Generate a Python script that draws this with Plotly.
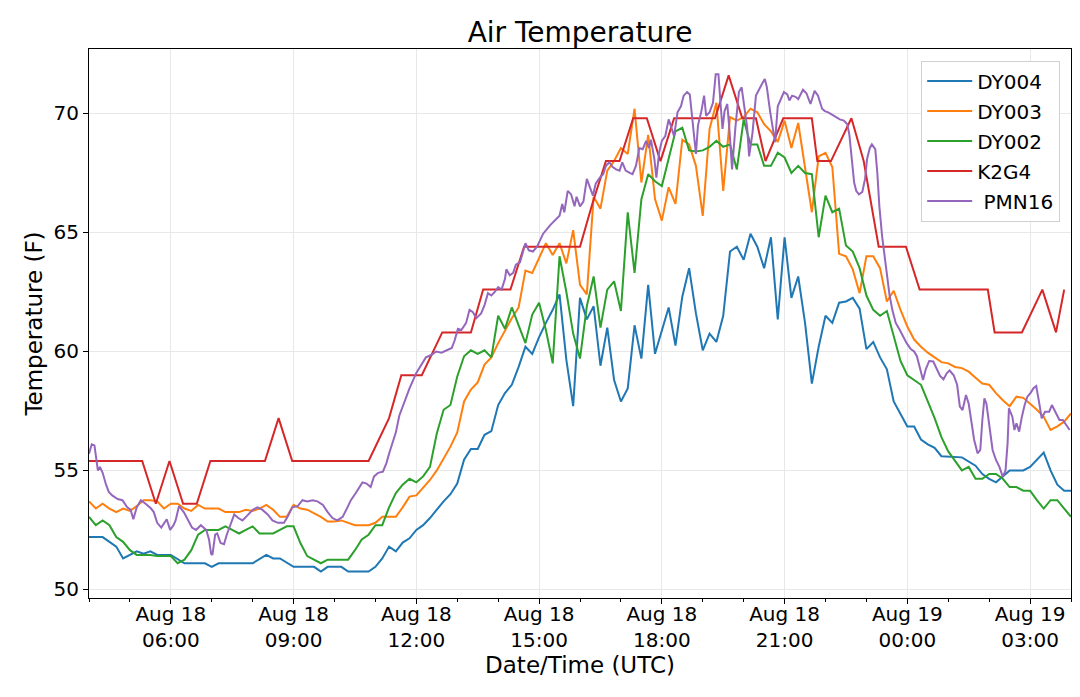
import pandas as pd
import plotly.graph_objects as go

# readings per station: (UTC time, temperature F), 18 -> 19 Aug
dy004 = [("04:00", 52.2), ("04:20", 52.2), ("04:30", 52.0), ("04:40", 51.8), ("04:50", 51.3), ("05:10", 51.6),
         ("05:20", 51.5), ("05:30", 51.6), ("05:40", 51.45), ("06:00", 51.45), ("06:20", 51.1), ("06:50", 51.1),
         ("07:00", 50.95), ("07:10", 51.1), ("08:00", 51.1), ("08:20", 51.45), ("08:30", 51.3), ("08:40", 51.3),
         ("09:00", 50.95), ("09:30", 50.95), ("09:40", 50.75), ("09:50", 50.95), ("10:10", 50.95), ("10:20", 50.75),
         ("10:50", 50.75), ("11:00", 50.95), ("11:10", 51.3), ("11:20", 51.8), ("11:30", 51.6), ("11:40", 51.97),
         ("11:50", 52.15), ("12:00", 52.5), ("12:10", 52.7), ("12:20", 53.0), ("12:30", 53.35), ("12:40", 53.7),
         ("12:50", 54.0), ("13:00", 54.45), ("13:10", 55.45), ("13:20", 55.9), ("13:30", 55.9), ("13:40", 56.5),
         ("13:50", 56.65), ("14:00", 57.75), ("14:10", 58.25), ("14:20", 58.6), ("14:30", 59.35), ("14:40", 60.2),
         ("14:50", 59.9), ("15:00", 60.6), ("15:10", 61.2), ("15:20", 61.75), ("15:30", 62.4), ("15:40", 59.65),
         ("15:50", 57.7), ("16:00", 62.25), ("16:10", 61.35), ("16:20", 61.9), ("16:30", 59.4), ("16:40", 61.0),
         ("16:50", 58.8), ("17:00", 57.9), ("17:10", 58.45), ("17:20", 61.1), ("17:30", 59.7), ("17:40", 62.8),
         ("17:50", 59.9), ("18:00", 60.9), ("18:10", 61.85), ("18:20", 60.25), ("18:30", 62.3), ("18:40", 63.5),
         ("18:50", 61.6), ("19:00", 60.05), ("19:10", 60.75), ("19:20", 60.4), ("19:30", 61.5), ("19:40", 64.2),
         ("19:50", 64.4), ("20:00", 63.85), ("20:10", 64.95), ("20:20", 64.4), ("20:30", 63.5), ("20:40", 64.8),
         ("20:50", 61.35), ("21:00", 64.8), ("21:10", 62.25), ("21:20", 63.15), ("21:30", 61.2), ("21:40", 58.65),
         ("21:50", 60.2), ("22:00", 61.5), ("22:10", 61.2), ("22:20", 62.05), ("22:30", 62.1), ("22:40", 62.25),
         ("22:50", 61.8), ("23:00", 60.1), ("23:10", 60.4), ("23:20", 59.75), ("23:30", 59.25), ("23:40", 57.9),
         ("23:50", 57.35), ("00:00", 56.85), ("00:10", 56.85), ("00:20", 56.3), ("00:30", 56.1), ("00:40", 55.95),
         ("00:50", 55.6), ("01:20", 55.55), ("01:40", 55.2), ("01:50", 54.85), ("02:00", 54.65), ("02:10", 54.5),
         ("02:20", 54.75), ("02:30", 55.0), ("02:50", 55.0), ("03:00", 55.15), ("03:20", 55.75), ("03:30", 55.0),
         ("03:40", 54.4), ("03:50", 54.15), ("04:00", 54.15)]

dy003 = [("04:00", 53.7), ("04:10", 53.4), ("04:20", 53.6), ("04:30", 53.4), ("04:40", 53.25), ("04:50", 53.4),
         ("05:00", 53.3), ("05:10", 53.5), ("05:20", 53.75), ("05:30", 53.75), ("05:40", 53.7), ("05:50", 53.4),
         ("06:00", 53.6), ("06:10", 53.6), ("06:20", 53.4), ("06:30", 53.3), ("06:40", 53.55), ("06:50", 53.4),
         ("07:10", 53.4), ("07:20", 53.25), ("07:40", 53.25), ("07:50", 53.35), ("08:00", 53.3), ("08:10", 53.4),
         ("08:20", 53.55), ("08:30", 53.35), ("08:40", 53.05), ("08:50", 53.05), ("09:00", 53.55), ("09:10", 53.4),
         ("09:20", 53.35), ("09:30", 53.2), ("09:40", 53.05), ("09:50", 52.85), ("10:00", 52.85), ("10:10", 52.9),
         ("10:20", 52.8), ("10:30", 52.7), ("10:50", 52.7), ("11:00", 52.8), ("11:10", 53.05), ("11:30", 53.05),
         ("11:40", 53.45), ("11:50", 53.9), ("12:00", 53.95), ("12:10", 54.3), ("12:20", 54.6), ("12:30", 55.0),
         ("12:40", 55.5), ("12:50", 56.0), ("13:00", 56.6), ("13:10", 57.9), ("13:20", 58.4), ("13:30", 58.7),
         ("13:40", 59.45), ("13:50", 59.75), ("14:00", 60.35), ("14:10", 60.9), ("14:20", 61.4), ("14:30", 61.85),
         ("14:40", 63.4), ("14:50", 63.3), ("15:00", 63.95), ("15:10", 64.55), ("15:20", 64.05), ("15:30", 64.55),
         ("15:40", 63.7), ("15:50", 65.1), ("16:00", 62.8), ("16:10", 62.4), ("16:20", 66.5), ("16:30", 66.0),
         ("16:40", 67.6), ("16:50", 68.0), ("17:00", 68.55), ("17:10", 68.3), ("17:20", 70.2), ("17:30", 67.1),
         ("17:40", 69.1), ("17:50", 66.4), ("18:00", 65.5), ("18:10", 66.9), ("18:20", 66.2), ("18:30", 68.9),
         ("18:40", 68.7), ("18:50", 67.8), ("19:00", 65.7), ("19:10", 69.35), ("19:20", 70.45), ("19:30", 66.75),
         ("19:40", 69.85), ("19:50", 69.7), ("20:00", 69.85), ("20:10", 70.2), ("20:20", 70.05), ("20:30", 69.55),
         ("20:40", 69.25), ("20:50", 68.8), ("21:00", 69.7), ("21:10", 68.55), ("21:20", 69.6), ("21:30", 67.7),
         ("21:40", 65.85), ("21:50", 68.2), ("22:00", 68.35), ("22:10", 67.75), ("22:20", 64.1), ("22:30", 64.0),
         ("22:40", 63.45), ("22:50", 62.45), ("23:00", 64.0), ("23:10", 64.0), ("23:20", 63.5), ("23:30", 62.1),
         ("23:40", 62.55), ("23:50", 61.75), ("00:00", 61.05), ("00:10", 60.5), ("00:20", 60.2), ("00:30", 59.95),
         ("00:40", 59.75), ("00:50", 59.55), ("01:00", 59.5), ("01:10", 59.35), ("01:20", 59.3), ("01:30", 59.15),
         ("01:40", 58.9), ("01:50", 58.65), ("02:00", 58.6), ("02:10", 58.25), ("02:20", 57.95), ("02:30", 57.7),
         ("02:40", 58.1), ("02:50", 58.05), ("03:00", 57.8), ("03:10", 57.55), ("03:20", 57.25), ("03:30", 56.7),
         ("03:40", 56.85), ("03:50", 57.05), ("04:00", 57.4)]

dy002 = [("04:00", 53.05), ("04:10", 52.7), ("04:20", 52.9), ("04:30", 52.7), ("04:40", 52.2), ("04:50", 52.0),
         ("05:00", 51.65), ("05:10", 51.45), ("05:30", 51.45), ("05:40", 51.4), ("06:00", 51.4), ("06:10", 51.1),
         ("06:20", 51.25), ("06:30", 51.65), ("06:40", 52.3), ("06:50", 52.5), ("07:10", 52.5), ("07:20", 52.65),
         ("07:30", 52.5), ("07:40", 52.35), ("07:50", 52.5), ("08:00", 52.65), ("08:10", 52.35), ("08:30", 52.35),
         ("08:40", 52.5), ("08:50", 52.65), ("09:00", 52.65), ("09:10", 51.95), ("09:20", 51.4), ("09:30", 51.25),
         ("09:40", 51.1), ("09:50", 51.25), ("10:20", 51.25), ("10:30", 51.65), ("10:40", 52.1), ("10:50", 52.3),
         ("11:00", 52.7), ("11:10", 52.7), ("11:20", 53.45), ("11:30", 54.05), ("11:40", 54.4), ("11:50", 54.65),
         ("12:00", 54.5), ("12:10", 54.75), ("12:20", 55.15), ("12:30", 56.55), ("12:40", 57.55), ("12:50", 57.75),
         ("13:00", 58.95), ("13:10", 59.8), ("13:20", 60.05), ("13:30", 59.9), ("13:40", 60.05), ("13:50", 59.75),
         ("14:00", 61.5), ("14:10", 60.95), ("14:20", 61.85), ("14:30", 61.1), ("14:40", 60.35), ("14:50", 61.55),
         ("15:00", 62.05), ("15:10", 60.9), ("15:20", 59.5), ("15:30", 64.0), ("15:40", 62.5), ("15:50", 60.75),
         ("16:00", 59.7), ("16:10", 61.9), ("16:20", 63.15), ("16:30", 61.0), ("16:40", 62.6), ("16:50", 62.95),
         ("17:00", 61.7), ("17:10", 65.85), ("17:20", 63.3), ("17:30", 66.4), ("17:40", 67.45), ("17:50", 67.15),
         ("18:00", 66.95), ("18:10", 68.1), ("18:20", 69.25), ("18:30", 69.4), ("18:40", 68.45), ("18:50", 68.4),
         ("19:00", 68.45), ("19:10", 68.6), ("19:20", 68.85), ("19:30", 68.6), ("19:40", 68.7), ("19:50", 67.65),
         ("20:00", 69.75), ("20:10", 68.7), ("20:20", 68.7), ("20:30", 67.8), ("20:40", 67.8), ("20:50", 68.35),
         ("21:00", 68.15), ("21:10", 67.5), ("21:20", 67.8), ("21:30", 67.5), ("21:40", 67.45), ("21:50", 64.8),
         ("22:00", 66.55), ("22:10", 65.85), ("22:20", 66.0), ("22:30", 64.45), ("22:40", 64.2), ("22:50", 63.5),
         ("23:00", 62.35), ("23:10", 61.75), ("23:20", 61.5), ("23:30", 61.7), ("23:40", 60.7), ("23:50", 59.6),
         ("00:00", 59.0), ("00:10", 58.8), ("00:20", 58.6), ("00:30", 57.9), ("00:40", 57.2), ("00:50", 56.4),
         ("01:00", 55.8), ("01:10", 55.4), ("01:20", 55.0), ("01:30", 55.15), ("01:40", 54.65), ("01:50", 54.65),
         ("02:00", 54.85), ("02:10", 54.85), ("02:20", 54.65), ("02:30", 54.3), ("02:40", 54.3), ("02:50", 54.15),
         ("03:00", 54.15), ("03:10", 53.75), ("03:20", 53.4), ("03:30", 53.75), ("03:40", 53.75), ("03:50", 53.4),
         ("04:00", 53.05)]

k2g4 = [("04:00", 55.4), ("05:18", 55.4), ("05:38", 53.6), ("05:58", 55.4), ("06:18", 53.6), ("06:38", 53.6),
        ("06:58", 55.4), ("08:18", 55.4), ("08:38", 57.2), ("08:58", 55.4), ("10:50", 55.4), ("11:20", 57.2),
        ("11:38", 59.0), ("12:08", 59.0), ("12:38", 60.8), ("13:20", 60.8), ("13:38", 62.6), ("14:18", 62.6),
        ("14:38", 64.4), ("16:00", 64.4), ("16:18", 66.2), ("16:38", 68.0), ("16:58", 68.0), ("17:18", 69.8),
        ("17:38", 69.8), ("17:58", 68.0), ("18:18", 69.8), ("19:18", 69.8), ("19:38", 71.6), ("19:58", 69.8),
        ("20:18", 69.8), ("20:32", 68.0), ("20:58", 69.8), ("21:40", 69.8), ("21:48", 68.0), ("22:08", 68.0),
        ("22:38", 69.8), ("22:56", 68.0), ("23:18", 64.4), ("23:58", 64.4), ("00:18", 62.6), ("01:58", 62.6),
        ("02:08", 60.8), ("02:48", 60.8), ("03:18", 62.6), ("03:38", 60.8), ("03:50", 62.6)]

pmn16 = [("04:00", 55.7), ("04:04", 56.1), ("04:08", 56.05), ("04:13", 55.0), ("04:16", 55.15), ("04:20", 54.9),
         ("04:25", 54.4), ("04:29", 54.1), ("04:34", 53.95), ("04:42", 53.8), ("04:49", 53.75), ("04:56", 53.45),
         ("05:01", 53.35), ("05:05", 52.95), ("05:10", 53.45), ("05:16", 53.75), ("05:23", 53.6), ("05:31", 53.4),
         ("05:35", 53.25), ("05:40", 52.8), ("05:46", 52.6), ("05:50", 52.75), ("05:54", 52.95), ("05:59", 52.5),
         ("06:04", 52.7), ("06:07", 52.9), ("06:12", 53.5), ("06:19", 53.25), ("06:25", 52.9), ("06:31", 52.6),
         ("06:37", 52.5), ("06:44", 52.7), ("06:52", 52.5), ("06:56", 52.1), ("06:59", 51.5), ("07:01", 51.45),
         ("07:05", 52.3), ("07:08", 52.35), ("07:13", 51.95), ("07:18", 51.9), ("07:22", 52.3), ("07:28", 52.8),
         ("07:33", 53.15), ("07:39", 53.0), ("07:45", 52.9), ("07:52", 53.1), ("08:00", 53.35), ("08:07", 53.45),
         ("08:14", 53.35), ("08:22", 53.15), ("08:29", 52.9), ("08:37", 52.8), ("08:46", 52.8), ("08:52", 53.1),
         ("08:58", 53.45), ("09:06", 53.5), ("09:13", 53.75), ("09:20", 53.7), ("09:28", 53.75), ("09:35", 53.7),
         ("09:43", 53.55), ("09:50", 53.25), ("09:57", 53.0), ("10:04", 52.9), ("10:12", 53.05), ("10:19", 53.45),
         ("10:24", 53.75), ("10:30", 54.0), ("10:36", 54.3), ("10:41", 54.5), ("10:47", 54.45), ("10:53", 54.3),
         ("10:58", 54.75), ("11:04", 54.9), ("11:11", 54.95), ("11:16", 55.3), ("11:20", 55.7), ("11:25", 56.2),
         ("11:30", 56.6), ("11:35", 57.3), ("11:43", 57.9), ("11:50", 58.45), ("12:00", 59.1), ("12:07", 59.45),
         ("12:14", 59.75), ("12:22", 59.85), ("12:29", 60.0), ("12:37", 59.95), ("12:44", 60.05), ("12:52", 60.15),
         ("12:56", 60.45), ("13:01", 60.95), ("13:06", 60.9), ("13:13", 61.2), ("13:18", 61.75), ("13:23", 61.65),
         ("13:28", 61.4), ("13:35", 61.6), ("13:40", 61.95), ("13:45", 62.45), ("13:50", 62.35), ("13:55", 62.5),
         ("14:00", 62.7), ("14:05", 62.6), ("14:10", 63.05), ("14:12", 63.45), ("14:17", 63.2), ("14:22", 63.3),
         ("14:26", 63.65), ("14:32", 63.75), ("14:37", 64.25), ("14:40", 64.55), ("14:45", 64.25), ("14:51", 64.2),
         ("14:57", 64.4), ("15:06", 64.95), ("15:16", 65.3), ("15:30", 65.7), ("15:34", 66.2), ("15:37", 65.85),
         ("15:42", 66.75), ("15:47", 66.6), ("15:52", 66.1), ("15:55", 66.5), ("16:00", 66.1), ("16:05", 66.3),
         ("16:10", 67.25), ("16:14", 66.9), ("16:19", 66.55), ("16:23", 67.05), ("16:29", 67.3), ("16:34", 67.45),
         ("16:38", 67.8), ("16:43", 67.95), ("16:48", 67.75), ("16:53", 67.65), ("16:58", 67.6), ("17:02", 67.95),
         ("17:07", 67.6), ("17:13", 67.5), ("17:17", 67.45), ("17:22", 67.8), ("17:27", 68.55), ("17:32", 68.5),
         ("17:37", 68.85), ("17:41", 68.55), ("17:44", 68.9), ("17:49", 68.1), ("17:52", 67.3), ("17:56", 68.35),
         ("18:00", 68.85), ("18:05", 69.05), ("18:10", 69.75), ("18:13", 69.5), ("18:18", 69.05), ("18:23", 70.05),
         ("18:28", 70.3), ("18:32", 70.75), ("18:37", 70.9), ("18:41", 70.8), ("18:45", 69.75), ("18:50", 68.3),
         ("18:53", 69.5), ("18:58", 70.1), ("19:02", 70.75), ("19:05", 69.9), ("19:10", 70.05), ("19:15", 70.45),
         ("19:19", 71.65), ("19:23", 71.65), ("19:26", 70.45), ("19:29", 69.35), ("19:32", 70.1), ("19:36", 70.4),
         ("19:39", 69.35), ("19:43", 67.65), ("19:48", 69.45), ("19:53", 70.9), ("19:57", 71.1), ("20:00", 70.45),
         ("20:05", 69.45), ("20:08", 68.2), ("20:13", 69.2), ("20:18", 70.75), ("20:23", 71.05), ("20:27", 71.25),
         ("20:31", 71.45), ("20:34", 71.1), ("20:39", 70.05), ("20:44", 69.0), ("20:46", 68.8), ("20:50", 70.3),
         ("20:55", 70.65), ("20:59", 70.9), ("21:04", 70.8), ("21:07", 70.55), ("21:11", 70.75), ("21:16", 70.7),
         ("21:20", 70.6), ("21:27", 71.0), ("21:32", 70.85), ("21:38", 70.4), ("21:44", 70.95), ("21:49", 70.75),
         ("21:55", 70.2), ("21:59", 70.1), ("22:04", 70.05), ("22:10", 69.95), ("22:15", 69.85), ("22:21", 69.75),
         ("22:27", 69.7), ("22:32", 69.55), ("22:35", 69.1), ("22:38", 68.1), ("22:42", 67.1), ("22:45", 66.75),
         ("22:49", 66.6), ("22:54", 66.7), ("22:58", 67.25), ("23:01", 68.1), ("23:05", 68.55), ("23:08", 68.7),
         ("23:13", 68.5), ("23:16", 67.5), ("23:19", 66.1), ("23:23", 64.85), ("23:27", 63.85), ("23:31", 63.05),
         ("23:34", 62.35), ("23:38", 61.75), ("23:43", 61.2), ("23:48", 60.95), ("23:53", 60.65), ("23:59", 60.35),
         ("00:05", 60.1), ("00:10", 60.0), ("00:14", 59.8), ("00:20", 59.15), ("00:23", 58.8), ("00:27", 59.25),
         ("00:32", 59.6), ("00:38", 59.58), ("00:43", 59.25), ("00:48", 58.97), ("00:53", 58.83), ("00:58", 59.09),
         ("01:02", 59.2), ("01:08", 59.0), ("01:13", 58.6), ("01:17", 57.68), ("01:21", 57.54), ("01:26", 58.17),
         ("01:30", 57.8), ("01:34", 56.98), ("01:38", 56.28), ("01:43", 55.72), ("01:47", 55.86), ("01:50", 57.12),
         ("01:53", 58.03), ("01:56", 57.8), ("02:01", 56.84), ("02:05", 55.86), ("02:10", 55.44), ("02:15", 55.15),
         ("02:20", 54.73), ("02:24", 55.0), ("02:27", 56.14), ("02:29", 57.61), ("02:34", 57.26), ("02:37", 56.7),
         ("02:40", 56.98), ("02:44", 56.63), ("02:48", 57.26), ("02:52", 57.75), ("02:56", 58.1), ("03:01", 58.27),
         ("03:05", 58.46), ("03:09", 58.55), ("03:13", 57.9), ("03:17", 57.19), ("03:22", 57.47), ("03:28", 57.47),
         ("03:32", 57.75), ("03:37", 57.47), ("03:43", 57.12), ("03:48", 57.12), ("03:53", 56.91), ("03:58", 56.7)]

stations = ["DY004", "DY003", "DY002", "K2G4", " PMN16"]
colors = ["#1f77b4", "#ff7f0e", "#2ca02c", "#d62728", "#9467bd"]


def to_times(rows):
    # clock times wrap past midnight into Aug 19
    day = pd.Timestamp("2018-08-18")
    out, prev = [], None
    for hhmm, _ in rows:
        t = day + pd.to_timedelta(hhmm + ":00")
        if prev is not None and t < prev:
            day += pd.Timedelta(days=1)
            t += pd.Timedelta(days=1)
        out.append(t)
        prev = t
    return out


fig = go.Figure()
for name, rows, c in zip(stations, [dy004, dy003, dy002, k2g4, pmn16], colors):
    fig.add_trace(go.Scatter(x=to_times(rows), y=[v for _, v in rows], mode="lines",
                             name=name.replace(" ", "\u00a0"), legendgroup=name,
                             line=dict(color=c, width=2)))

# page body has an 8px margin, so the figure is sized to fit the window
W, H = 1072, 689
font = "DejaVu Sans, Liberation Sans, sans-serif"
fig.update_layout(
    width=W, height=H,
    margin=dict(l=81, r=9, t=41, b=99),
    paper_bgcolor="white", plot_bgcolor="white",
    font=dict(family=font, color="black", size=20),
    title=dict(text="Air Temperature", x=0.5, xref="paper", y=1 - 24 / H, yanchor="middle",
               font=dict(size=28)),
    legend=dict(x=0.989, xanchor="right", y=0.979, yanchor="top", bgcolor="white",
                bordercolor="#d0d0d0", borderwidth=1, font=dict(size=20), tracegroupgap=1,
                itemwidth=45),
)
fig.update_xaxes(
    range=["2018-08-18 04:00", "2018-08-19 04:00"],
    tick0="2018-08-18 00:00", dtick=3 * 3600000, tickformat="%b %d<br>%H:%M",
    ticks="outside", ticklen=5, tickcolor="black", ticklabelstandoff=-7,
    minor=dict(dtick=3600000, tick0="2018-08-18 00:00", ticks="outside", ticklen=3,
               tickcolor="black", showgrid=False),
    showgrid=True, gridcolor="#e8e8e8", gridwidth=1,
    showline=True, mirror=True, linecolor="black", linewidth=1.2, automargin=False,
    title=dict(text="Date/Time (UTC)", font=dict(size=23), standoff=2),
)
fig.update_yaxes(
    range=[49.64, 72.71], tickvals=[50, 55, 60, 65, 70],
    ticks="outside", ticklen=5, tickcolor="black",
    showgrid=True, gridcolor="#e8e8e8", gridwidth=1, zeroline=False,
    showline=True, mirror=True, linecolor="black", linewidth=1.2, automargin=False,
    title=dict(text="Temperature (F)", font=dict(size=23), standoff=4),
)

fig.write_html("out.html")
